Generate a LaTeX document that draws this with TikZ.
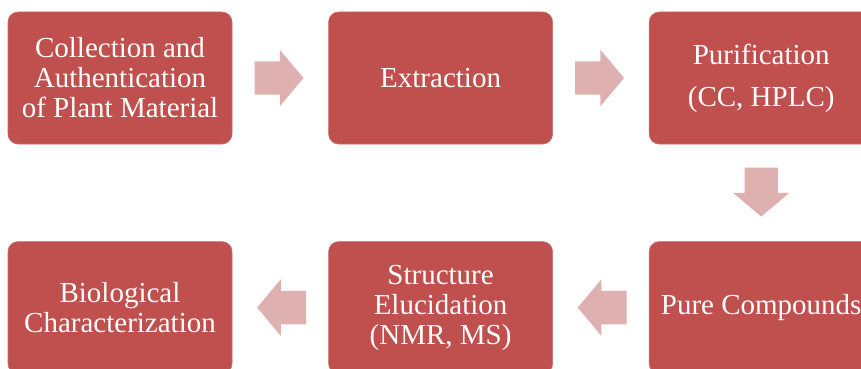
\documentclass[tikz,border=0pt]{standalone}
\usepackage{fontspec}
\setmainfont{Liberation Serif}
\usetikzlibrary{positioning, calc, shapes.arrows}
\definecolor{stepred}{RGB}{192,80,77}
\definecolor{arrowpink}{RGB}{222,177,176}

\begin{document}
\begin{tikzpicture}[
    stage/.style={rectangle, rounded corners=10pt, fill=stepred, draw=stepred!85!white, line width=0.6pt,
                  text=white, minimum width=224pt, minimum height=132pt, inner sep=2pt, align=center,
                  font=\rmfamily\fontsize{29}{30}\selectfont},
    flow/.style={single arrow, fill=arrowpink, draw=none, inner sep=16.5pt, minimum width=56pt,
                 minimum height=49pt, single arrow head extend=11.5pt, single arrow tip angle=100,
                 anchor=tail}
]
    \useasboundingbox (0,0) rectangle (861pt,-369pt);

    % Top row:
    \node[stage] (collect) at (120pt,-78pt) {Collection and\\Authentication\\of Plant Material};
    \node[stage, right=96pt of collect] (extract) {Extraction};
    \node[stage, right=96pt of extract] (purify) {Purification\\[12pt](CC, HPLC)};

    % Bottom row:
    \node[stage, below=97pt of purify] (pure) {Pure Compounds};
    \node[stage, left=96pt of pure] (elucid) {Structure\\Elucidation\\(NMR, MS)};
    \node[stage, left=96pt of elucid] (bio) {Biological\\Characterization};

    % Block arrows:
    \node[flow] (a1) at ($(collect.east)+(22pt,0)$) {};
    \node[flow] (a2) at ($(extract.east)+(22pt,0)$) {};
    \node[flow, shape border rotate=270] (a3) at ($(purify.south)+(0,-23pt)$) {};
    \node[flow, shape border rotate=180] (a4) at ($(pure.west)+(-22pt,0)$) {};
    \node[flow, shape border rotate=180] (a5) at ($(elucid.west)+(-22pt,0)$) {};
\end{tikzpicture}
\end{document}
